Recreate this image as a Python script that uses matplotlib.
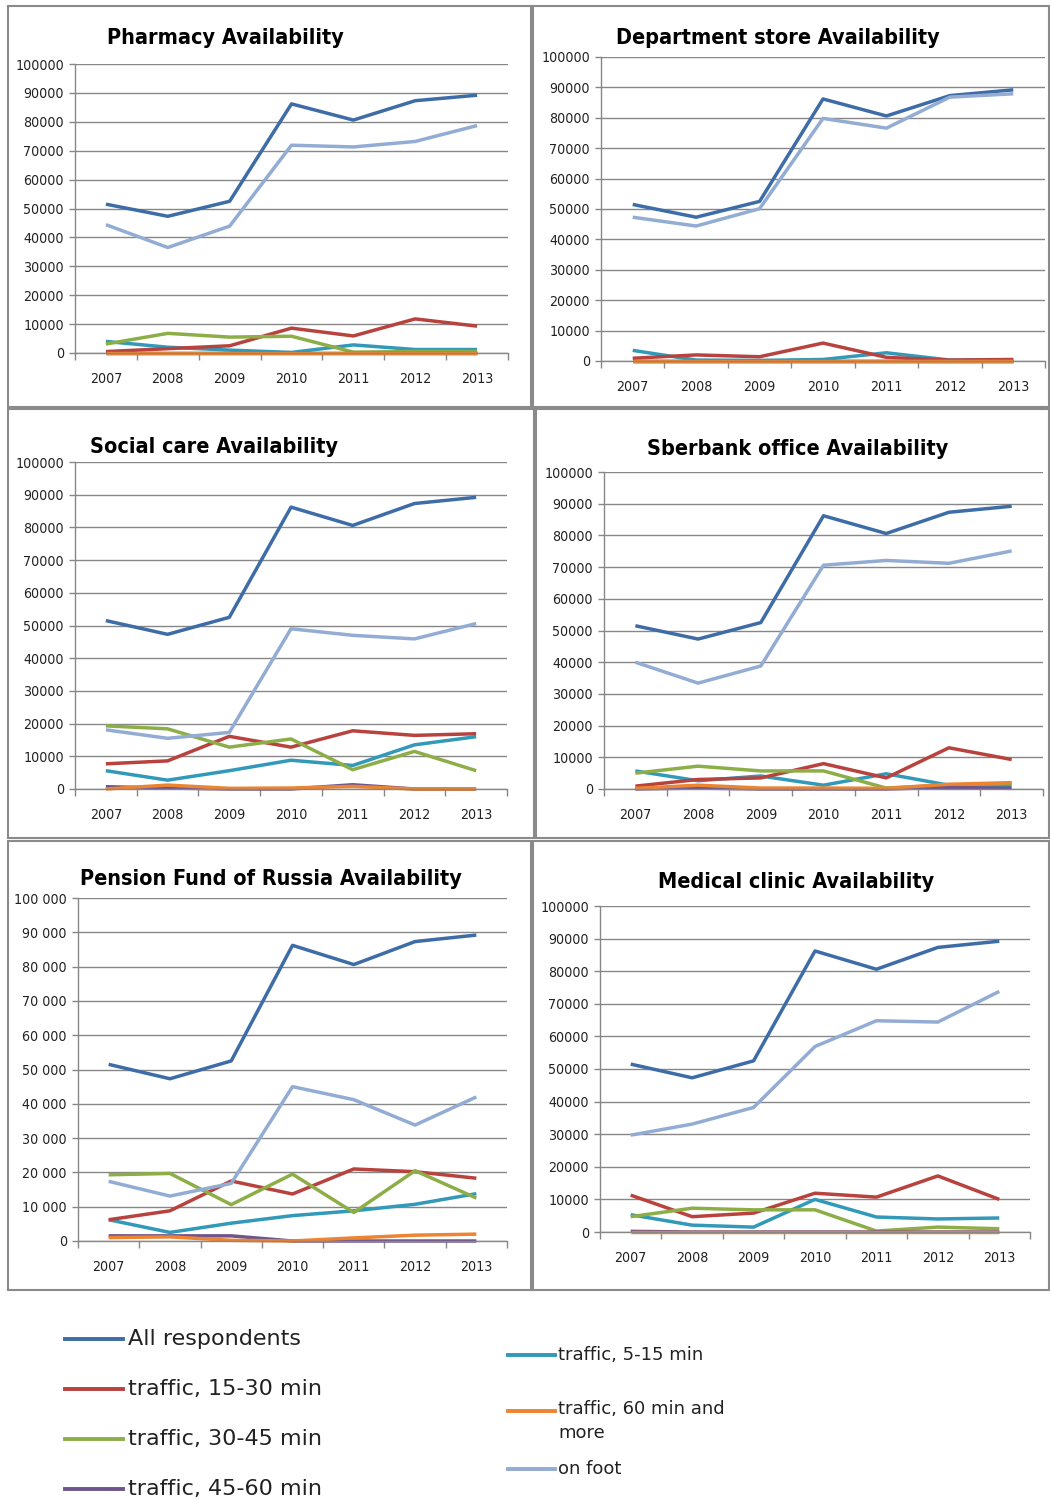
import matplotlib
matplotlib.use("Agg")
import matplotlib.pyplot as plt
from matplotlib import font_manager
from matplotlib.lines import Line2D
from matplotlib.patches import Rectangle
from matplotlib.ticker import FuncFormatter

W, H = 1050, 1499

years = ["2007", "2008", "2009", "2010", "2011", "2012", "2013"]

series_names = ["All respondents", "traffic, 5-15 min", "traffic, 15-30 min",
                "traffic, 30-45 min", "traffic, 45-60 min",
                "traffic, 60 min and\nmore", "on foot"]
colors = ["#3e6ca7", "#3299b9", "#b8423d", "#8dae47", "#6f548e", "#ec8431", "#93acd3"]

all_resp = [51500, 47300, 52500, 86200, 80600, 87300, 89200]

pharmacy = {
    "t5_15": [4000, 2000, 1000, 200, 2800, 1200, 1200],
    "t15_30": [500, 1500, 2500, 8600, 5900, 11800, 9300],
    "t30_45": [3100, 6800, 5500, 5800, 300, 500, 500],
    "t45_60": [0, 0, 0, 0, 0, 0, 0],
    "t60": [100, 100, 100, 100, 100, 100, 100],
    "foot": [44400, 36500, 43900, 71900, 71300, 73200, 78700],
}
dept_store = {
    "t5_15": [3500, 300, 200, 500, 2700, 300, 300],
    "t15_30": [900, 2000, 1400, 5900, 1200, 300, 500],
    "t30_45": [0, 0, 0, 0, 0, 0, 0],
    "t45_60": [0, 0, 0, 0, 0, 0, 0],
    "t60": [100, 100, 100, 100, 100, 100, 100],
    "foot": [47300, 44400, 50100, 79800, 76600, 86800, 87900],
}
social_care = {
    "t5_15": [5600, 2700, 5600, 8800, 7200, 13500, 16000],
    "t15_30": [7700, 8600, 16100, 12800, 17800, 16400, 16900],
    "t30_45": [19300, 18400, 12800, 15300, 5900, 11500, 5600],
    "t45_60": [700, 300, 0, 0, 1300, 0, 0],
    "t60": [0, 1200, 200, 300, 800, 0, 0],
    "foot": [18100, 15500, 17300, 49000, 47000, 45900, 50600],
}
sberbank = {
    "t5_15": [5700, 2600, 4100, 1200, 4800, 1200, 1000],
    "t15_30": [900, 3000, 3500, 8000, 3500, 13000, 9300],
    "t30_45": [5000, 7200, 5700, 5700, 300, 1200, 1800],
    "t45_60": [0, 300, 0, 0, 0, 500, 200],
    "t60": [200, 1200, 300, 300, 200, 1500, 2000],
    "foot": [40000, 33400, 38800, 70600, 72100, 71200, 75100],
}
pension = {
    "t5_15": [6200, 2500, 5200, 7400, 8800, 10700, 13800],
    "t15_30": [6200, 8800, 17500, 13700, 21000, 20200, 18300],
    "t30_45": [19300, 19700, 10600, 19500, 8300, 20500, 12500],
    "t45_60": [1500, 1500, 1500, 0, 0, 0, 0],
    "t60": [1000, 1200, 200, 0, 900, 1700, 2000],
    "foot": [17400, 13100, 16800, 45000, 41200, 33800, 42000],
}
medical = {
    "t5_15": [5300, 2100, 1500, 10000, 4600, 4000, 4300],
    "t15_30": [11300, 4700, 5800, 11900, 10700, 17200, 10000],
    "t30_45": [4700, 7300, 6800, 6800, 300, 1500, 1000],
    "t45_60": [200, 0, 0, 0, 0, 0, 0],
    "t60": [100, 100, 100, 100, 100, 100, 100],
    "foot": [29700, 33100, 38200, 56900, 64800, 64400, 73800],
}

# panel: title, data, frame box (l, t, r, b), axes box (l, t, r, b), title pos, spaced labels
panels = [
    ("Pharmacy Availability", pharmacy, (8, 6, 531, 407), (75, 64, 508, 353), (225, 38), False),
    ("Department store Availability", dept_store, (533, 6, 1049, 407), (601, 57, 1045, 361), (778, 38), False),
    ("Social care Availability", social_care, (8, 409, 534, 838), (75, 462, 507, 789), (214, 447), False),
    ("Sberbank office Availability", sberbank, (536, 409, 1049, 838), (604, 472, 1043, 789), (798, 449), False),
    ("Pension Fund of Russia Availability", pension, (8, 841, 531, 1290), (78, 898, 507, 1241), (271, 879), True),
    ("Medical clinic Availability", medical, (533, 841, 1049, 1290), (600, 906, 1030, 1232), (796, 882), False),
]

# pick a narrow face if one is installed
installed = font_manager.fontManager.ttflist
names = {f.name for f in installed}
has_cond = any(f.name == "DejaVu Sans" and str(f.stretch) in ("condensed", "semi-condensed")
               for f in installed)
if "Liberation Sans Narrow" in names:
    NARROW = dict(family=["Liberation Sans Narrow", "DejaVu Sans"], fontstretch="normal")
    tick_fs, title_fs = 12, 19
elif has_cond:
    NARROW = dict(family=["DejaVu Sans"], fontstretch="condensed")
    tick_fs, title_fs = 10.2, 15.5
else:
    NARROW = dict(family=["Liberation Sans", "DejaVu Sans"], fontstretch="normal")
    tick_fs, title_fs = 10.2, 15.5

GRID = "#878787"

fig = plt.figure(figsize=(W / 100, H / 100), dpi=100)


def fx(px):
    return px / W


def fy(py):
    return 1 - py / H


for title, d, frame, box, tpos, spaced in panels:
    fl, ft, fr, fb = frame
    fig.add_artist(Rectangle((fx(fl), fy(fb)), fx(fr - fl), (fb - ft) / H,
                             transform=fig.transFigure, fill=False,
                             edgecolor="#8a8a8a", linewidth=1.5))
    l, t, r, b = box
    ax = fig.add_axes([fx(l), fy(b), fx(r - l), (b - t) / H])
    x = list(range(len(years)))
    lines = [all_resp, d["t5_15"], d["t15_30"], d["t30_45"], d["t45_60"], d["t60"], d["foot"]]
    for vals, c in zip(lines, colors):
        ax.plot(x, vals, color=c, linewidth=2.5, solid_capstyle="butt", clip_on=False)

    ax.set_xlim(-0.5, len(years) - 0.5)
    ax.set_ylim(0, 100000)
    ax.set_yticks(range(0, 100001, 10000))
    if spaced:
        ax.yaxis.set_major_formatter(FuncFormatter(lambda v, p: f"{int(v):,}".replace(",", " ")))
    else:
        ax.yaxis.set_major_formatter(FuncFormatter(lambda v, p: f"{int(v)}"))
    ax.set_xticks(x)
    ax.set_xticklabels(years)
    ax.set_xticks([i - 0.5 for i in range(len(years) + 1)], minor=True)
    ax.tick_params(axis="x", which="major", length=0, pad=14)
    ax.tick_params(axis="x", which="minor", length=5, width=1, color=GRID, direction="out")
    ax.tick_params(axis="y", length=4, width=1, color=GRID, pad=4)
    for lab in ax.get_xticklabels() + ax.get_yticklabels():
        lab.set_family(NARROW["family"])
        lab.set_fontstretch(NARROW["fontstretch"])
        lab.set_fontsize(tick_fs)
        lab.set_color("#222222")
    ax.grid(axis="y", color=GRID, linewidth=1)
    ax.set_axisbelow(True)
    for s in ("top", "right"):
        ax.spines[s].set_visible(False)
    for s in ("left", "bottom"):
        ax.spines[s].set_color(GRID)
        ax.spines[s].set_linewidth(1)
    fig.text(fx(tpos[0]), fy(tpos[1]), title, ha="center", va="center",
             family=NARROW["family"], fontstretch=NARROW["fontstretch"],
             fontweight="bold", fontsize=title_fs, color="black")

# legend block at the bottom
legend_left = [(0, 1339), (2, 1389), (3, 1439), (4, 1489)]
legend_right = [(1, 1355), (5, 1411), (6, 1469)]
for idx, yy in legend_left:
    fig.add_artist(Line2D([fx(65), fx(123)], [fy(yy), fy(yy)], transform=fig.transFigure,
                          color=colors[idx], linewidth=2.8))
    fig.text(fx(128), fy(yy), series_names[idx], ha="left", va="center",
             family="DejaVu Sans", fontsize=16, color="#222222")
for idx, yy in legend_right:
    fig.add_artist(Line2D([fx(508), fx(555)], [fy(yy), fy(yy)], transform=fig.transFigure,
                          color=colors[idx], linewidth=2.8))
    txt = series_names[idx]
    if "\n" in txt:
        fig.text(fx(558), fy(yy - 11), txt, ha="left", va="top", family="DejaVu Sans",
                 fontsize=13, color="#222222", linespacing=1.45)
    else:
        fig.text(fx(558), fy(yy), txt, ha="left", va="center", family="DejaVu Sans",
                 fontsize=13, color="#222222")

fig.savefig("out.png", dpi=100, facecolor="white")
